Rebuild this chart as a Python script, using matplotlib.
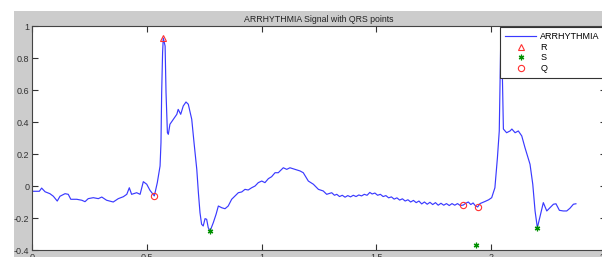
import matplotlib
matplotlib.use('Agg')
from matplotlib import pyplot as plt
from matplotlib.patches import Rectangle

plt.rcParams['font.family'] = ['Liberation Sans', 'DejaVu Sans']

# signal
t = [0.000, 0.032, 0.042, 0.057, 0.078, 0.093, 0.110, 0.122, 0.144, 0.158,
     0.169, 0.195, 0.217, 0.231, 0.245, 0.267, 0.289, 0.304, 0.325, 0.354,
     0.376, 0.398, 0.413, 0.424, 0.434, 0.456, 0.471, 0.485, 0.500, 0.514,
     0.533, 0.546, 0.558, 0.562, 0.565, 0.569, 0.572, 0.580, 0.584, 0.590,
     0.594, 0.601, 0.616, 0.631, 0.637, 0.648, 0.659, 0.671, 0.681, 0.696,
     0.706, 0.718, 0.725, 0.732, 0.739, 0.746, 0.754, 0.761, 0.768, 0.776,
     0.790, 0.802, 0.812, 0.827, 0.841, 0.855, 0.870, 0.885, 0.899, 0.914,
     0.928, 0.942, 0.957, 0.972, 0.986, 1.001, 1.015, 1.030, 1.044, 1.059,
     1.073, 1.088, 1.095, 1.110, 1.124, 1.146, 1.168, 1.182, 1.204, 1.226,
     1.248, 1.269, 1.284, 1.306, 1.318, 1.328, 1.340, 1.352, 1.364, 1.376,
     1.388, 1.400, 1.412, 1.424, 1.436, 1.448, 1.460, 1.472, 1.482, 1.494,
     1.506, 1.518, 1.530, 1.542, 1.554, 1.566, 1.578, 1.590, 1.602, 1.614,
     1.626, 1.638, 1.650, 1.662, 1.674, 1.686, 1.698, 1.710, 1.722, 1.734,
     1.746, 1.758, 1.770, 1.782, 1.794, 1.806, 1.818, 1.830, 1.842, 1.854,
     1.866, 1.879, 1.890, 1.901, 1.912, 1.922, 1.932, 1.942, 1.952, 1.962,
     1.975, 1.990, 2.003, 2.017, 2.028, 2.036, 2.044, 2.050, 2.054, 2.068,
     2.083, 2.091, 2.105, 2.119, 2.134, 2.148, 2.170, 2.182, 2.192, 2.202,
     2.214, 2.228, 2.243, 2.257, 2.272, 2.283, 2.298, 2.315, 2.330, 2.344,
     2.359, 2.370]
sig = [-0.033, -0.033, -0.013, -0.036, -0.048, -0.064, -0.094, -0.064, -0.048, -0.052,
       -0.083, -0.083, -0.089, -0.098, -0.079, -0.073, -0.079, -0.069, -0.089, -0.100,
       -0.079, -0.067, -0.052, -0.011, -0.052, -0.042, -0.052, 0.027, 0.011, -0.027,
       -0.062, 0.021, 0.125, 0.271, 0.583, 0.833, 0.925, 0.875, 0.583, 0.333,
       0.323, 0.386, 0.417, 0.448, 0.479, 0.448, 0.500, 0.525, 0.511, 0.417,
       0.271, 0.104, -0.042, -0.167, -0.239, -0.250, -0.204, -0.208, -0.261, -0.281,
       -0.229, -0.177, -0.125, -0.136, -0.142, -0.125, -0.083, -0.062, -0.042, -0.037,
       -0.021, -0.025, -0.011, 0.000, 0.021, 0.031, 0.021, 0.046, 0.058, 0.083,
       0.083, 0.104, 0.114, 0.104, 0.114, 0.104, 0.094, 0.083, 0.031, 0.011,
       -0.021, -0.031, -0.052, -0.042, -0.058, -0.052, -0.066, -0.058, -0.070, -0.060,
       -0.068, -0.058, -0.066, -0.056, -0.062, -0.052, -0.058, -0.040, -0.050, -0.044,
       -0.058, -0.052, -0.066, -0.060, -0.074, -0.068, -0.082, -0.074, -0.088, -0.080,
       -0.094, -0.086, -0.100, -0.090, -0.104, -0.094, -0.112, -0.100, -0.114, -0.102,
       -0.116, -0.104, -0.120, -0.108, -0.120, -0.110, -0.122, -0.110, -0.120, -0.110,
       -0.122, -0.119, -0.108, -0.100, -0.116, -0.106, -0.124, -0.131, -0.110, -0.104,
       -0.096, -0.086, -0.073, -0.011, 0.177, 0.344, 1.050, 0.656, 0.356, 0.333,
       0.344, 0.356, 0.333, 0.344, 0.313, 0.240, 0.136, 0.011, -0.156, -0.261,
       -0.188, -0.104, -0.156, -0.136, -0.114, -0.111, -0.152, -0.156, -0.156, -0.139,
       -0.114, -0.111]

r_t = [0.572]
r_v = [0.927]
s_t = [0.776, 1.935, 2.202]
s_v = [-0.281, -0.370, -0.261]
q_t = [0.533, 1.879, 1.942]
q_v = [-0.062, -0.119, -0.131]

xticks = [0, 0.5, 1, 1.5, 2, 2.5]
yticks = [-0.4, -0.2, 0, 0.2, 0.4, 0.6, 0.8, 1]

fig = plt.figure(figsize=(6.02, 2.57), dpi=100, facecolor='white')
fig.patches.append(Rectangle((14 / 602, 0), 1, 246 / 257, transform=fig.transFigure,
                             facecolor='#cccccc', edgecolor='none', zorder=-10))

ax = fig.add_axes([32 / 602, 7 / 257, 573.75 / 602, 224 / 257])
ax.set_facecolor('white')
ax.plot(t, sig, color='#3a3aff', lw=0.85, label='ARRHYTHMIA')
ax.plot(r_t, r_v, ls='none', marker='^', ms=5, mfc='none', mec='#ff3030', mew=0.8, label='R')
ax.plot(s_t, s_v, ls='none', marker=(6, 2, 0), ms=4, color='#009000', mew=0.9, label='S')
ax.plot(q_t, q_v, ls='none', marker='o', ms=4.5, mfc='none', mec='#ff3030', mew=0.8, label='Q')

ax.set_xlim(0, 2.5)
ax.set_ylim(-0.4, 1)
ax.set_xticks(xticks)
ax.set_yticks(yticks)
ax.set_xticklabels(['0', '0.5', '1', '1.5', '2', '2.5'])
ax.set_yticklabels(['-0.4', '-0.2', '0', '0.2', '0.4', '0.6', '0.8', '1'])
ax.tick_params(direction='in', top=True, right=True, length=4, width=0.8,
               labelsize=6.5, colors='#333333', pad=2)
for s in ax.spines.values():
    s.set_color('#444444')
    s.set_linewidth(0.8)

ax.set_title('ARRHYTHMIA Signal with QRS points', fontsize=6.3, color='#222222', pad=3)

leg = ax.legend(loc='upper right', fontsize=6.5, fancybox=False, framealpha=1,
                edgecolor='#333333', borderaxespad=0.1, handlelength=3.4,
                labelspacing=0.2, borderpad=0.55, handletextpad=0.5)
leg.get_frame().set_linewidth(0.8)

fig.savefig('out.png', dpi=100, facecolor=fig.get_facecolor())
